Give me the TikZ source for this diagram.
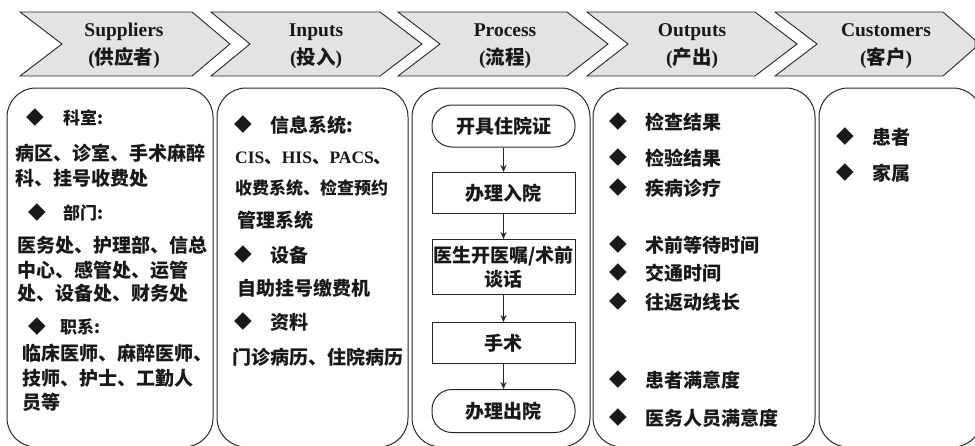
\documentclass[tikz,border=0pt]{standalone}
\usepackage{fontspec}
\setmainfont{Liberation Serif}
\newfontfamily\cjk{Noto Sans CJK SC}
\newfontfamily\dejavu{DejaVu Sans}
\usetikzlibrary{arrows.meta}
\newcommand{\fs}[1]{\fontsize{#1}{#1}\selectfont}
\tikzset{
  chev/.style={draw=black!85, fill=black!11, line width=0.9pt, line join=miter},
  panel/.style={draw=black!85, line width=1pt, rounded corners=29pt},
  hd/.style={font=\bfseries\fontsize{19.5}{28}\selectfont, align=center, inner sep=0pt, text=black!90},
  tx/.style={font=\cjk\bfseries\fs{19}, anchor=west, inner sep=0pt, text=black!90},
  txs/.style={font=\cjk\bfseries\fs{17}, anchor=west, inner sep=0pt, text=black!90},
  dm/.style={font=\dejavu\fs{23}, inner sep=0pt, text=black!90},
  pbox/.style={draw=black!85, line width=1pt, minimum width=143pt, minimum height=41pt,
    inner sep=0pt, font=\cjk\bfseries\fontsize{19}{24}\selectfont, align=center, text=black!90},
  pround/.style={pbox, rounded corners=20pt},
  flow/.style={draw=black!85, line width=0.9pt, -{Stealth[length=7pt,width=6pt]}}
}
\begin{document}
\begin{tikzpicture}[x=1pt,y=-1pt]
\useasboundingbox (0,0) rectangle (975,445);
\clip (0,0) rectangle (975,445);
\fill[white] (0,0) rectangle (975,445);

% chevrons
\draw[chev] (20,12) -- (192,12) -- (230,44) -- (192,76) -- (20,76) -- (62,44) -- cycle;
\draw[chev] (211,12) -- (380,12) -- (422,44) -- (380,76) -- (211,76) -- (250,44) -- cycle;
\draw[chev] (398,12) -- (567,12) -- (608,44) -- (567,76) -- (398,76) -- (440,44) -- cycle;
\draw[chev] (587,12) -- (755,12) -- (797,44) -- (755,76) -- (587,76) -- (628,44) -- cycle;
\draw[chev] (775,12) -- (943,12) -- (975,40) -- (975,48) -- (943,76) -- (775,76) -- (817,44) -- cycle;

\node[hd] (h1) at (124,46) {Suppliers\\({\cjk\bfseries 供应者})};
\node[hd] (h2) at (316,46) {Inputs\\({\cjk\bfseries 投入})};
\node[hd] (h3) at (505,46) {Process\\({\cjk\bfseries 流程})};
\node[hd] (h4) at (692,46) {Outputs\\({\cjk\bfseries 产出})};
\node[hd] (h5) at (886,46) {Customers\\({\cjk\bfseries 客户})};

% panels
\draw[panel] (7,88) rectangle (213,447);
\draw[panel] (217,88) rectangle (408,447);
\draw[panel] (412,88) rectangle (590,447);
\draw[panel] (593,88) rectangle (815,447);
\draw[panel] (819,88) rectangle (982,447);

% Suppliers
\node[dm] (s1d) at (35,118) {◆};
\node[txs] (s1) at (63,118) {科室:};
\node[tx] (s2) at (15,153) {病区、诊室、手术麻醉};
\node[tx] (s3) at (15,178) {科、挂号收费处};
\node[dm] (s4d) at (37,213) {◆};
\node[txs] (s4) at (63,213) {部门:};
\node[tx] (s5) at (17,245) {医务处、护理部、信总};
\node[tx] (s6) at (17,270) {中心、感管处、运管};
\node[tx] (s7) at (17,293) {处、设备处、财务处};
\node[dm] (s8d) at (37,327) {◆};
\node[txs] (s8) at (60,327) {职系:};
\node[tx] (s9) at (22,353) {临床医师、麻醉医师、};
\node[tx] (s10) at (22,378) {技师、护士、工勤人};
\node[tx] (s11) at (22,402) {员等};

% Inputs
\node[dm] (i1d) at (243,125) {◆};
\node[tx] (i1) at (270,125) {信息系统:};
\node[anchor=west, inner sep=0pt, text=black!90] (i2) at (235,158)
  {\bfseries\fs{17.5}CIS{\cjk 、}HIS{\cjk 、}PACS{\cjk 、}};
\node[txs] (i3) at (235,188) {收费系统、检查预约};
\node[tx] (i4) at (237,220) {管理系统};
\node[dm] (i5d) at (243,255) {◆};
\node[tx] (i5) at (270,255) {设备};
\node[tx] (i6) at (237,288) {自助挂号缴费机};
\node[dm] (i7d) at (243,322) {◆};
\node[tx] (i7) at (270,322) {资料};
\node[tx] (i8) at (232,357) {门诊病历、住院病历};

% Process
\node[pround, minimum height=42pt] (p1) at (503.5,126) {开具住院证};
\node[pbox] (p2) at (503.5,193) {办理入院};
\node[pbox, minimum height=55pt] (p3) at (503.5,267) {医生开医嘱/术前\\谈话};
\node[pbox] (p4) at (503.5,343) {手术};
\node[pround, minimum height=43pt] (p5) at (503.5,411) {办理出院};
\draw[flow] (p1) -- (p2);
\draw[flow] (p2) -- (p3);
\draw[flow] (p3) -- (p4);
\draw[flow] (p4) -- (p5);

% Outputs
\node[dm] (o1d) at (618,122) {◆};
\node[tx] (o1) at (645,122) {检查结果};
\node[dm] (o2d) at (618,158) {◆};
\node[tx] (o2) at (645,158) {检验结果};
\node[dm] (o3d) at (618,188) {◆};
\node[tx] (o3) at (645,188) {疾病诊疗};
\node[dm] (o4d) at (618,245) {◆};
\node[tx] (o4) at (645,245) {术前等待时间};
\node[dm] (o5d) at (618,273) {◆};
\node[tx] (o5) at (645,273) {交通时间};
\node[dm] (o6d) at (618,302) {◆};
\node[tx] (o6) at (645,302) {往返动线长};
\node[dm] (o7d) at (618,380) {◆};
\node[tx] (o7) at (645,380) {患者满意度};
\node[dm] (o8d) at (618,418) {◆};
\node[tx] (o8) at (645,418) {医务人员满意度};

% Customers
\node[dm] (c1d) at (845,137) {◆};
\node[tx] (c1) at (872,137) {患者};
\node[dm] (c2d) at (845,173) {◆};
\node[tx] (c2) at (872,173) {家属};
\end{tikzpicture}
\end{document}
